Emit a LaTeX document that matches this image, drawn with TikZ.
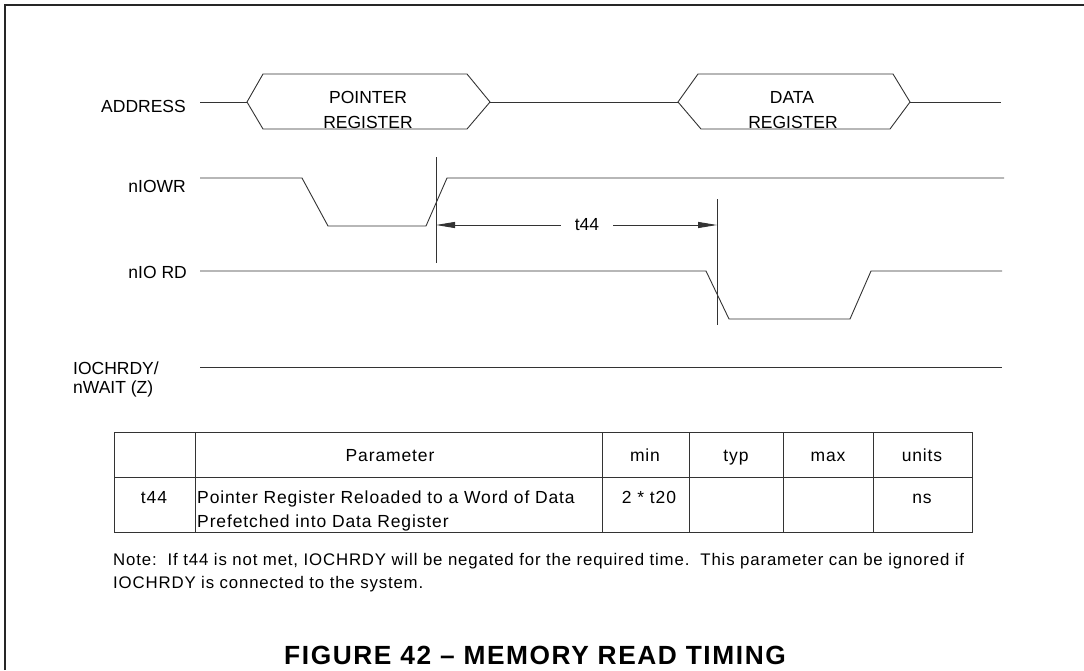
\documentclass[tikz,border=0pt]{standalone}
\usepackage{fontspec}
\setmainfont{Liberation Sans}
\newfontfamily\widefont[LetterSpace=5]{Liberation Sans}
\newfontfamily\titlefont[LetterSpace=6]{Liberation Sans}
\usetikzlibrary{arrows.meta}
\begin{document}
\begin{tikzpicture}[x=1pt,y=-1pt,
  wave/.style={line width=0.9pt,draw=black!80},
  sig/.style={font=\fontsize{17.5}{25}\selectfont,inner sep=0pt,anchor=base},
  tbl/.style={font=\widefont\fontsize{17.5}{24}\selectfont,inner sep=0pt,anchor=base},
  grid/.style={line width=0.9pt,draw=black!80},
  marker/.style={line width=0.9pt,draw=black!80},
  dim/.style={line width=0.9pt,draw=black!80,-{Triangle[length=19pt,width=6pt]}}]
\useasboundingbox (0,0) rectangle (1084,670);
% frame
\draw[line width=1.8pt,black!85] (5,670) -- (5,5) -- (1084,5);
% signal labels
\node[sig,anchor=base east] (laddr) at (186,112) {ADDRESS};
\node[sig,anchor=base east] (lwr) at (186,192) {nIOWR};
\node[sig,anchor=base east] (lrd) at (187,278) {nIO RD};
\node[sig,anchor=base west] (lrdy1) at (73,374) {IOCHRDY/};
\node[sig,anchor=base west] (lrdy2) at (73,393) {nWAIT (Z)};
% address bus
\draw[wave] (200,102) -- (247,102);
\draw[wave] (247,102) -- (263,74) -- (467,74) -- (490,102) -- (467,129) -- (263,129) -- cycle;
\draw[wave] (490,102) -- (678,102);
\draw[wave] (678,102) -- (698,74) -- (893,74) -- (910,102) -- (890,129) -- (701,129) -- cycle;
\draw[wave] (910,102) -- (1001,102);
\node[sig] (ptr1) at (368,103) {POINTER};
\node[sig] (ptr2) at (368,128) {REGISTER};
\node[sig] (dat1) at (792,103) {DATA};
\node[sig] (dat2) at (793,128) {REGISTER};
% nIOWR
\draw[wave] (200,178) -- (302,178) -- (328,226) -- (426,226) -- (447,178) -- (1004,178);
% nIORD
\draw[wave] (200,271) -- (706,271) -- (729,319) -- (850,319) -- (871,271) -- (1002,271);
% IOCHRDY
\draw[wave] (200,367) -- (1002,367);
% markers and t44
\draw[marker] (436,157) -- (436,263);
\draw[marker] (717,199) -- (717,325);
\coordinate (v1) at (436,225);
\coordinate (v2) at (717,225);
\node[sig,anchor=center,inner xsep=14pt] (t44) at (587,225) {t44};
\draw[dim] (t44.west) -- (v1);
\draw[dim] (t44.east) -- (v2);
% table
\draw[grid] (114,432) rectangle (972,532);
\draw[grid] (114,477) -- (972,477);
\foreach \cx in {195,602,689,783,873} \draw[grid] (\cx,432) -- (\cx,532);
\node[tbl] (hpar) at (390,461) {Parameter};
\node[tbl] (hmin) at (645,461) {min};
\node[tbl] (htyp) at (736,461) {typ};
\node[tbl] (hmax) at (828,461) {max};
\node[tbl] (hun) at (922,461) {units};
\node[tbl] (ct44) at (154,503) {t44};
\node[tbl,anchor=base west] (cpar1) at (197,503) {Pointer Register Reloaded to a Word of Data};
\node[tbl,anchor=base west] (cpar2) at (197,527) {Prefetched into Data Register};
\node[tbl] (cmin) at (649,503) {2 * t20};
\node[tbl] (cun) at (922,503) {ns};
% note
\node[inner sep=0pt,anchor=base west,font=\widefont\fontsize{16.8}{20}\selectfont] (note1) at (113,565) {Note:\ \ If t44 is not met, IOCHRDY will be negated for the required time.\ \ This parameter can be ignored if};
\node[inner sep=0pt,anchor=base west,font=\widefont\fontsize{16.8}{20}\selectfont] (note2) at (113,588) {IOCHRDY is connected to the system.};
% title
\node[inner sep=0pt,anchor=base,font=\titlefont\fontsize{26.3}{30}\bfseries\selectfont] (title) at (535,664) {FIGURE 42 – MEMORY READ TIMING};
\end{tikzpicture}
\end{document}
